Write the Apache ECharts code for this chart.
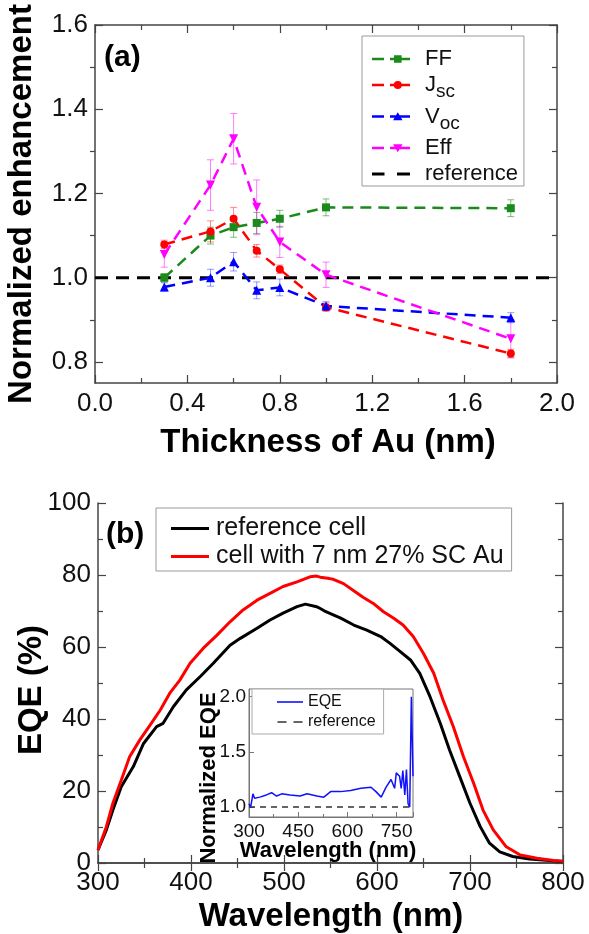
<!DOCTYPE html>
<html><head><meta charset="utf-8">
<script src="https://cdn.jsdelivr.net/npm/echarts@6/dist/echarts.min.js"></script>
<style>html,body{margin:0;padding:0;background:#fff}#c{width:589px;height:934px}</style>
</head><body><div id="c"></div>
<script>
// ---- Panel (a) data ----
const thickness = [0.3, 0.5, 0.6, 0.7, 0.8, 1.0, 1.8];
const ff     = [1.000, 1.100, 1.120, 1.130, 1.140, 1.167, 1.165];
const ffErr  = [0.010, 0.020, 0.024, 0.025, 0.020, 0.020, 0.020];
const jsc    = [1.079, 1.110, 1.140, 1.064, 1.020, 0.930, 0.820];
const jscErr = [0.010, 0.025, 0.027, 0.015, 0.010, 0.010, 0.010];
const voc    = [0.978, 1.000, 1.038, 0.970, 0.977, 0.933, 0.905];
const vocErr = [0.010, 0.020, 0.022, 0.020, 0.020, 0.010, 0.012];
const eff    = [1.055, 1.220, 1.330, 1.167, 1.085, 1.007, 0.855];
const effErr = [0.030, 0.060, 0.060, 0.065, 0.037, 0.030, 0.045];
const refThickness = [0, 2];
const refLevel = [1, 1];
const aYLabels = [0.8, 1.0, 1.2, 1.4, 1.6];
const aYMinor = [0.9, 1.1, 1.3, 1.5];

// ---- Panel (b) data ----
const wlRef = [300,309,316,325,338,349,363,370,381,395,410,424,442,453,471,485,499,514,523,535,539,545,553,561,575,589,604,614,625,636,646,657,668,678,689,700,711,721,732,746,764,789,800];
const eqeRef = [3.6,9.2,14.7,21.2,26.8,33.2,37.9,38.8,43.4,48.1,51.8,55.5,60.5,62.4,65.2,67.5,69.4,71.2,71.9,71.2,70.7,69.8,68.9,68.0,66.1,64.7,62.9,61.0,58.7,56.4,52.7,46.2,38.8,31.4,24.0,16.6,10.1,5.5,3.1,1.8,1.1,0.6,0.4];
const wlAu = [300,309,316,325,334,345,356,367,377,388,399,413,428,442,456,471,485,499,514,528,535,539,549,553,564,575,585,596,607,618,628,639,650,661,671,682,693,704,714,725,739,754,772,790,800];
const eqeAu = [3.6,10.1,16.6,23.0,29.5,34.2,38.3,42.5,47.1,50.8,55.5,59.6,63.3,67.0,70.3,73.0,74.9,76.8,78.1,79.5,79.7,79.4,79.0,78.8,77.6,75.6,73.8,72.1,69.8,68.0,66.1,62.9,58.2,52.7,45.3,37.9,29.5,22.1,14.7,9.2,4.5,2.2,1.3,0.7,0.5];

// ---- Inset data ----
const wlNorm = [300,305,312,317,333,353,369,384,400,425,456,477,507,528,549,579,610,641,672,687,703,718,733,744,749,759,764,769,775,780,785,790,795,800];
const normEqe = [1.03,1.00,1.12,1.08,1.09,1.11,1.13,1.10,1.12,1.11,1.10,1.12,1.10,1.09,1.14,1.14,1.15,1.17,1.18,1.14,1.09,1.18,1.25,1.17,1.31,1.28,1.17,1.33,1.11,1.34,1.03,1.00,2.00,1.28];
const insetRefWl = [300, 800];
const insetRefLevel = [1, 1];
const insetYLabels = [1.0, 1.5, 2.0];

const FONT = "'Liberation Sans', Arial, sans-serif";
const pairs = (xs, ys) => xs.map((x, i) => [x, ys[i]]);

function errSeries(xs, ys, es, color) {
  return {
    type: 'custom', xAxisIndex: 0, yAxisIndex: 0, z: 1, silent: true,
    data: xs.map((x, i) => [x, ys[i] - es[i], ys[i] + es[i]]),
    encode: { x: 0, y: [1, 2] },
    renderItem: function (params, api) {
      const lo = api.coord([api.value(0), api.value(1)]);
      const hi = api.coord([api.value(0), api.value(2)]);
      const w = 3.5;
      const st = { stroke: color, lineWidth: 1 };
      return { type: 'group', children: [
        { type: 'line', shape: { x1: lo[0], y1: lo[1], x2: hi[0], y2: hi[1] }, style: st },
        { type: 'line', shape: { x1: lo[0] - w, y1: lo[1], x2: lo[0] + w, y2: lo[1] }, style: st },
        { type: 'line', shape: { x1: hi[0] - w, y1: hi[1], x2: hi[0] + w, y2: hi[1] }, style: st }
      ]};
    }
  };
}

// legend icon shapes (38 x 10 box); tiny corner specks fix the bounding box
const BOX = 'M0,0h0.01v0.01h-0.01Z M37.99,9.99h0.01v0.01h-0.01Z ';
const DASH_A = 'M0,3.8H12V6.2H0Z M18,3.8H38V6.2H18Z ';
const iconFF  = 'path://' + BOX + DASH_A + 'M22,1.2H29.6V8.8H22Z';
const iconJsc = 'path://' + BOX + DASH_A + 'M21.8,5A4,4 0 1,1 29.8,5A4,4 0 1,1 21.8,5Z';
const iconVoc = 'path://' + BOX + DASH_A + 'M25.8,0.8L30.5,8.8H21.1Z';
const iconEff = 'path://' + BOX + DASH_A + 'M21.1,1.2H30.5L25.8,9.2Z';
const iconRef = 'path://' + BOX + 'M0,3.5H12.5V6.5H0Z M25,3.5H38V6.5H25Z';
const iconSolid = 'path://M0,0H38V3H0Z';
const iconInsetLine = 'path://M0,0H26V1.6H0Z';
const iconInsetDash = 'path://M0,0H9V1.6H0Z M16,0H25V1.6H16Z';

const axLine = { show: true, lineStyle: { color: '#444', width: 1.5 } };
const lbl = { fontSize: 26, color: '#111', fontFamily: FONT };
const dash = [11, 7];
const TITLE = "bold 33px " + FONT;

function txt(text, x, y, font, rot, align) {
  return { type: 'text', x: x, y: y, rotation: rot || 0, z: 20,
    style: { text: text, font: font, fill: '#000', textAlign: align || 'center', textVerticalAlign: 'middle',
             align: align || 'center', verticalAlign: 'middle' } };
}

const chart = echarts.init(document.getElementById('c'), null, { renderer: 'canvas' });
chart.setOption({
  animation: false,
  backgroundColor: '#fff',
  grid: [
    { left: 95, top: 25, width: 462, height: 358 },
    { left: 98, top: 503, width: 465, height: 360 },
    { left: 249, top: 689, width: 164, height: 128, show: true, backgroundColor: '#fff', borderColor: '#777', borderWidth: 1, z: 5 }
  ],
  xAxis: [
    { gridIndex: 0, type: 'value', min: 0, max: 2, interval: 0.4, axisLine: axLine, splitLine: { show: false },
      axisTick: { inside: true, length: 8, lineStyle: { color: '#444', width: 1.2 } },
      minorTick: { show: true, splitNumber: 2, length: 5, lineStyle: { color: '#444', width: 1.2 } },
      axisLabel: Object.assign({ margin: 8, formatter: v => v.toFixed(1) }, lbl) },
    { gridIndex: 0, type: 'value', position: 'top', min: 0, max: 2, interval: 0.4, axisLine: axLine, splitLine: { show: false },
      axisTick: { inside: true, length: 8, lineStyle: { color: '#444', width: 1.2 } },
      minorTick: { show: true, splitNumber: 2, length: 5, lineStyle: { color: '#444', width: 1.2 } },
      axisLabel: { show: false } },
    { gridIndex: 1, type: 'value', min: 300, max: 800, interval: 100, axisLine: axLine, splitLine: { show: false },
      axisTick: { inside: true, length: 8, lineStyle: { color: '#444', width: 1.2 } },
      minorTick: { show: true, splitNumber: 2, length: 5, lineStyle: { color: '#444', width: 1.2 } },
      axisLabel: Object.assign({ margin: 7 }, lbl) },
    { gridIndex: 1, type: 'value', position: 'top', min: 300, max: 800, interval: 100, axisLine: axLine, splitLine: { show: false },
      axisTick: { inside: true, length: 8, lineStyle: { color: '#444', width: 1.2 } },
      minorTick: { show: true, splitNumber: 2, length: 5, lineStyle: { color: '#444', width: 1.2 } },
      axisLabel: { show: false } },
    { gridIndex: 2, type: 'value', min: 300, max: 800, interval: 150, z: 6,
      axisLine: { show: true, lineStyle: { color: '#777', width: 1 } }, splitLine: { show: false },
      axisTick: { inside: true, length: 5, lineStyle: { color: '#777' } },
      minorTick: { show: true, splitNumber: 2, length: 3, lineStyle: { color: '#777' } },
      axisLabel: { margin: 5, fontSize: 19, color: '#111', fontFamily: FONT } }
  ],
  yAxis: [
    { gridIndex: 0, type: 'value', min: 0.75, max: 1.6, axisLine: axLine, splitLine: { show: false },
      axisTick: { inside: true, length: 8, customValues: aYLabels, lineStyle: { color: '#444', width: 1.2 } },
      axisLabel: Object.assign({ margin: 7, customValues: aYLabels, formatter: v => v.toFixed(1) }, lbl) },
    { gridIndex: 0, type: 'value', min: 0.75, max: 1.6, axisLine: { show: false }, splitLine: { show: false },
      axisTick: { inside: true, length: 5, customValues: aYMinor, lineStyle: { color: '#444', width: 1.2 } },
      axisLabel: { show: false, customValues: aYMinor } },
    { gridIndex: 0, type: 'value', position: 'right', min: 0.75, max: 1.6, axisLine: axLine, splitLine: { show: false },
      axisTick: { inside: true, length: 8, customValues: aYLabels, lineStyle: { color: '#444', width: 1.2 } },
      axisLabel: { show: false, customValues: aYLabels } },
    { gridIndex: 0, type: 'value', position: 'right', min: 0.75, max: 1.6, axisLine: { show: false }, splitLine: { show: false },
      axisTick: { inside: true, length: 5, customValues: aYMinor, lineStyle: { color: '#444', width: 1.2 } },
      axisLabel: { show: false, customValues: aYMinor } },
    { gridIndex: 1, type: 'value', min: 0, max: 100, interval: 20, axisLine: axLine, splitLine: { show: false },
      axisTick: { inside: true, length: 8, lineStyle: { color: '#444', width: 1.2 } },
      minorTick: { show: true, splitNumber: 2, length: 5, lineStyle: { color: '#444', width: 1.2 } },
      axisLabel: Object.assign({ margin: 7 }, lbl) },
    { gridIndex: 1, type: 'value', position: 'right', min: 0, max: 100, interval: 20, axisLine: axLine, splitLine: { show: false },
      axisTick: { inside: true, length: 8, lineStyle: { color: '#444', width: 1.2 } },
      minorTick: { show: true, splitNumber: 2, length: 5, lineStyle: { color: '#444', width: 1.2 } },
      axisLabel: { show: false } },
    { gridIndex: 2, type: 'value', min: 0.91, max: 2.07, z: 6,
      axisLine: { show: true, lineStyle: { color: '#777', width: 1 } }, splitLine: { show: false },
      axisTick: { inside: true, length: 5, customValues: insetYLabels, lineStyle: { color: '#777' } },
      axisLabel: { margin: 3, customValues: insetYLabels, formatter: v => v.toFixed(1), fontSize: 19, color: '#111', fontFamily: FONT } }
  ],
  legend: [
    { data: [ { name: 'FF', icon: iconFF }, { name: 'Jsc', icon: iconJsc }, { name: 'Voc', icon: iconVoc },
              { name: 'Eff', icon: iconEff }, { name: 'reference', icon: iconRef } ],
      orient: 'vertical', left: 362, top: 36,
      padding: [12, 6, 1, 10], itemGap: 4, itemWidth: 38, itemHeight: 10,
      borderColor: '#999', borderWidth: 1, backgroundColor: '#fff', z: 10,
      textStyle: { fontSize: 22, color: '#111', fontFamily: FONT, padding: [0, 0, 0, 10],
        rich: { m: { fontSize: 22, fontFamily: FONT, color: '#111' },
                s: { fontSize: 19, fontFamily: FONT, color: '#111', padding: [14, 0, 0, 0] } } },
      formatter: function (n) {
        if (n === 'Jsc') return '{m|J}{s|sc}';
        if (n === 'Voc') return '{m|V}{s|oc}';
        return '{m|' + n + '}';
      } },
    { data: [ { name: 'reference cell', icon: iconSolid }, { name: 'cell with 7 nm 27% SC Au', icon: iconSolid } ],
      orient: 'vertical', left: 156, top: 508,
      padding: [8, 8, 2, 15], itemGap: 3, itemWidth: 38, itemHeight: 3,
      borderColor: '#999', borderWidth: 1, backgroundColor: '#fff', z: 10,
      textStyle: { fontSize: 25, color: '#111', fontFamily: FONT, padding: [0, 0, 0, 2] } },
    { data: [ { name: 'EQE', icon: iconInsetLine }, { name: 'insetRef', icon: iconInsetDash } ],
      orient: 'vertical', left: 252, top: 689,
      padding: [5, 8, 4, 25], itemGap: 4, itemWidth: 26, itemHeight: 1.6,
      borderColor: '#aaa', borderWidth: 1, backgroundColor: '#fff', z: 10,
      textStyle: { fontSize: 16, color: '#111', fontFamily: FONT, padding: [0, 0, 0, 0] },
      formatter: n => n === 'insetRef' ? 'reference' : n }
  ],
  graphic: [
    txt('Normalized enhancement', 22, 204, TITLE, Math.PI / 2),
    txt('Thickness of Au (nm)', 328, 443, TITLE),
    txt('EQE (%)', 32, 690, TITLE, Math.PI / 2),
    txt('Wavelength (nm)', 331, 917, TITLE),
    txt('(a)', 104, 58, "bold 30px " + FONT, 0, 'left'),
    txt('(b)', 106, 535, "bold 30px " + FONT, 0, 'left'),
    txt('Normalized EQE', 209, 778, "bold 22px " + FONT, Math.PI / 2),
    txt('Wavelength (nm)', 328, 851, "bold 22px " + FONT)
  ],
  series: [
    errSeries(thickness, ff, ffErr, 'rgba(0,128,0,0.5)'),
    errSeries(thickness, jsc, jscErr, 'rgba(255,0,0,0.45)'),
    errSeries(thickness, voc, vocErr, 'rgba(0,0,255,0.4)'),
    errSeries(thickness, eff, effErr, 'rgba(255,0,255,0.5)'),
    { name: 'reference', type: 'line', xAxisIndex: 0, yAxisIndex: 0, data: pairs(refThickness, refLevel), symbol: 'none', z: 2,
      color: '#000', lineStyle: { color: '#000', width: 3, type: [13, 8] } },
    { name: 'FF', type: 'line', xAxisIndex: 0, yAxisIndex: 0, data: pairs(thickness, ff), symbol: 'rect', symbolSize: 8, z: 3,
      color: '#1a8a1a', itemStyle: { color: '#1a8a1a' }, lineStyle: { color: '#1a8a1a', width: 2.5, type: dash } },
    { name: 'Jsc', type: 'line', xAxisIndex: 0, yAxisIndex: 0, data: pairs(thickness, jsc), symbol: 'circle', symbolSize: 8, z: 3,
      color: '#ff0000', itemStyle: { color: '#ff0000' }, lineStyle: { color: '#ff0000', width: 2.5, type: dash } },
    { name: 'Voc', type: 'line', xAxisIndex: 0, yAxisIndex: 0, data: pairs(thickness, voc), symbol: 'triangle', symbolSize: 9, z: 3,
      color: '#0000ff', itemStyle: { color: '#0000ff' }, lineStyle: { color: '#0000ff', width: 2.5, type: dash } },
    { name: 'Eff', type: 'line', xAxisIndex: 0, yAxisIndex: 0, data: pairs(thickness, eff), symbol: 'triangle', symbolRotate: 180, symbolSize: 9, z: 3,
      color: '#ff00ff', itemStyle: { color: '#ff00ff' }, lineStyle: { color: '#ff00ff', width: 2.5, type: dash } },
    { name: 'reference cell', type: 'line', xAxisIndex: 2, yAxisIndex: 4, data: pairs(wlRef, eqeRef), symbol: 'none', z: 3,
      color: '#000', lineStyle: { color: '#000', width: 3 } },
    { name: 'cell with 7 nm 27% SC Au', type: 'line', xAxisIndex: 2, yAxisIndex: 4, data: pairs(wlAu, eqeAu), symbol: 'none', z: 3,
      color: '#ff0000', lineStyle: { color: '#ff0000', width: 3 } },
    { name: 'insetRef', type: 'line', xAxisIndex: 4, yAxisIndex: 6, data: pairs(insetRefWl, insetRefLevel), symbol: 'none', z: 7,
      color: '#333', lineStyle: { color: '#333', width: 1.5, type: [6, 5] } },
    { name: 'EQE', type: 'line', xAxisIndex: 4, yAxisIndex: 6, data: pairs(wlNorm, normEqe), symbol: 'none', z: 8,
      color: '#1010ff', lineStyle: { color: '#1010ff', width: 1.5 } }
  ]
});
</script></body></html>
